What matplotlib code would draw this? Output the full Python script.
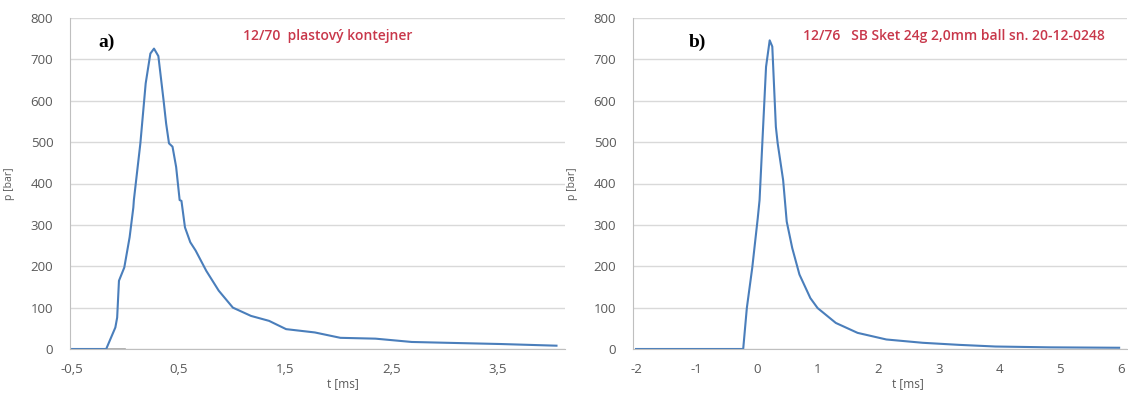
import matplotlib.pyplot as plt
import numpy as np

# panel a) 12/70 plastový kontejner
t_a = [-0.5, -0.18, -0.094, -0.077, -0.06, -0.01, 0.04, 0.075, 0.08, 0.141, 0.191, 0.235,
       0.269, 0.31, 0.359, 0.383, 0.41, 0.443, 0.477, 0.51, 0.527, 0.56, 0.61, 0.66, 0.76,
       0.877, 1.01, 1.18, 1.35, 1.51, 1.78, 2.02, 2.35, 2.69, 3.02, 3.53, 4.05]
p_a = [0, 0, 52, 76, 165, 197, 270, 342, 360, 497, 642, 714,
       726, 708, 601, 545, 497, 489, 440, 360, 358, 294, 258, 238, 189,
       141, 100, 80, 68, 48, 40, 27, 25, 17, 15, 12, 8]
base_t = [-0.5, 0.0]
base_p = [0, 0]

# panel b) 12/76 SB Sket 24g
t_b = [-2.0, -0.232, -0.172, -0.083, 0.008, 0.038, 0.086, 0.145, 0.205, 0.248, 0.307,
       0.337, 0.427, 0.486, 0.577, 0.696, 0.876, 0.995, 1.296, 1.655, 2.13, 2.73,
       3.33, 3.93, 4.83, 5.97]
p_b = [0, 0, 99, 196, 316, 360, 505, 682, 746, 731, 537,
       497, 408, 308, 244, 180, 123, 99, 63, 39, 23, 15,
       10, 6, 4, 3]

ticks_a = [-0.5, 0.5, 1.5, 2.5, 3.5]
ticklabels_a = ['-0,5', '0,5', '1,5', '2,5', '3,5']
ticks_b = [-2, -1, 0, 1, 2, 3, 4, 5, 6]
yticks = np.arange(0, 900, 100)

title_a = '12/70  plastový kontejner'
title_b = '12/76   SB Sket 24g 2,0mm ball sn. 20-12-0248'

plt.rcParams['font.family'] = ['Open Sans', 'DejaVu Sans']

fig = plt.figure(figsize=(11.28, 3.94), dpi=100)
ax1 = fig.add_axes([70/1128, 45/394, 495/1128, 331/394])
ax2 = fig.add_axes([633/1128, 45/394, 494/1128, 331/394])

line_c = '#4a7ebb'
grid_c = '#d9d9d9'
txt_c = '#595959'
red_c = '#c8374a'

def style(ax, xlim, ticks, labels, lx):
    ax.set_xlim(*xlim)
    ax.set_ylim(0, 800)
    ax.set_yticks(yticks)
    ax.set_xticks(ticks)
    ax.set_xticklabels(labels)
    ax.grid(axis='y', color=grid_c, lw=1)
    ax.set_axisbelow(True)
    for s in ['top', 'right']:
        ax.spines[s].set_visible(False)
    for s in ['left', 'bottom']:
        ax.spines[s].set_color('#bfbfbf')
    ax.tick_params(length=0, colors=txt_c, labelsize=9.5)
    ax.tick_params(axis='x', pad=10)
    ax.tick_params(axis='y', pad=12)
    ax.set_xlabel('t [ms]', fontsize=8.5, color=txt_c)
    ax.xaxis.set_label_coords(lx, -0.085)
    ax.set_ylabel('p [bar]', fontsize=7.5, color=txt_c)
    ax.yaxis.set_label_coords(-0.112, 0.5)

style(ax1, (-0.52, 4.13), ticks_a, ticklabels_a, 0.552)
style(ax2, (-2.05, 6.1), ticks_b, [str(v) for v in ticks_b], 0.557)

ax1.plot(base_t, base_p, color='#a6a6a6', lw=1.2)
ax1.plot(t_a, p_a, color=line_c, lw=1.5)
ax2.plot(t_b, p_b, color=line_c, lw=1.5)

fig.text(98/1128, 1 - 42/394, 'a)', family='Liberation Serif', fontweight='bold',
         fontsize=14, va='center', ha='left')
fig.text(689/1128, 1 - 42/394, 'b)', family='Liberation Serif', fontweight='bold',
         fontsize=14, va='center', ha='left')
fig.text(243/1128, 1 - 36/394, title_a, color=red_c, fontsize=10, fontweight='semibold',
         va='center', ha='left')
fig.text(803/1128, 1 - 36/394, title_b, color=red_c, fontsize=10, fontweight='semibold',
         va='center', ha='left')

plt.savefig('out.png', dpi=100)
